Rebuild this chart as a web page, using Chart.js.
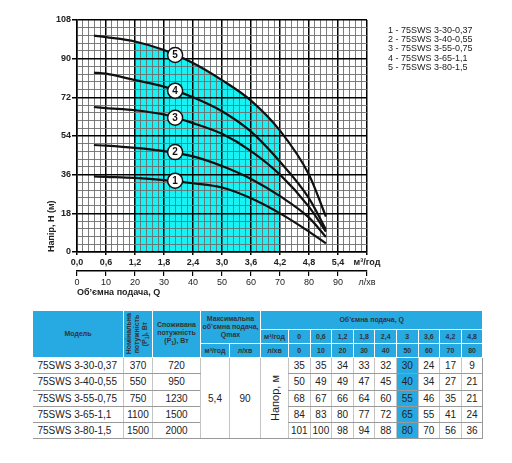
<!DOCTYPE html>
<html>
<head>
<meta charset="utf-8">
<script src="https://cdn.jsdelivr.net/npm/chart.js@4"></script>
<style>
  body { margin: 0; background: #fff; font-family: Arial, "Liberation Sans", sans-serif; }
  #wrap { position: absolute; left: 0; top: 0; width: 512px; height: 301px; }
  #legend { position: absolute; left: 388px; top: 26px; font-size: 9px; line-height: 9.2px; color: #222; }
  #tbl { position: absolute; left: 32px; top: 310px; border-collapse: collapse; table-layout: fixed; width: 450px; }
  #tbl th { background: #27aae1; color: #333; font-size: 7px; font-weight: bold; border: 1px solid #fff; padding: 0; text-align: center; line-height: 8px; }
  #tbl td { font-size: 10px; color: #222; text-align: center; padding: 0; height: 15px; border-bottom: 1px solid #9a9a9a; border-left: 1px solid #c4c4c4; }
  #tbl td.model { text-align: left; padding-left: 5px; border-left: none; }
  #tbl td.hl { background: #27aae1; }
  #tbl td.last { border-right: 1px solid #9a9a9a; }
  .v { writing-mode: vertical-rl; transform: rotate(180deg); margin: 0 auto; }
</style>
</head>
<body>
<div id="wrap"><canvas id="chart"></canvas></div>
<div id="legend"></div>
<table id="tbl"></table>
<script>
// curves (Q in m3/h, H in m)
const curveQ = [0.35, 0.6, 1.2, 1.8, 2.4, 3.0, 3.6, 4.2, 4.8, 5.15]
const head1 = [35.2, 35, 34.5, 33.5, 32, 30, 25, 18, 9.5, 4]
const head2 = [49.8, 49.5, 48.5, 47, 44.5, 40, 34, 26, 16, 7]
const head3 = [67.5, 67, 66, 64, 60, 55, 47, 36, 21, 9.5]
const head4 = [83.5, 83, 80, 77, 72, 65.5, 56, 42, 25, 10.5]
const head5 = [100.7, 100, 98, 94, 88, 80, 70.5, 56.5, 36, 16.5]

// working range (cyan area)
const workQ = [1.2, 1.8, 2.4, 3.0, 3.6, 4.2]
const workHead = [98, 94, 88, 80, 70.5, 56.5]

// circled curve numbers
const labelText = ['1', '2', '3', '4', '5']
const labelQ = [2.03, 2.03, 2.03, 2.03, 2.03]
const labelHead = [33.2, 46.5, 62.5, 75.1, 91.7]

const legendLines = ['1 - 75SWS 3-30-0,37', '2 - 75SWS 3-40-0,55', '3 - 75SWS 3-55-0,75', '4 - 75SWS 3-65-1,1', '5 - 75SWS 3-80-1,5']

// table
const models = ['75SWS 3-30-0,37', '75SWS 3-40-0,55', '75SWS 3-55-0,75', '75SWS 3-65-1,1', '75SWS 3-80-1,5']
const nominalPower = [370, 550, 750, 1100, 1500]
const consumedPower = [720, 950, 1230, 1500, 2000]
const qmaxM3 = '5,4'
const qmaxL = '90'
const flowM3 = ['0', '0,6', '1,2', '1,8', '2,4', '3', '3,6', '4,2', '4,8']
const flowL = ['0', '10', '20', '30', '40', '50', '60', '70', '80']
const tableHeads = [
  [35, 35, 34, 33, 32, 30, 24, 17, 9],
  [50, 49, 49, 47, 45, 40, 34, 27, 21],
  [68, 67, 66, 64, 60, 55, 46, 35, 21],
  [84, 83, 80, 77, 72, 65, 55, 41, 24],
  [101, 100, 98, 94, 88, 80, 70, 56, 36],
]
const highlightCol = 5

const pts = (xs, ys) => xs.map((x, i) => ({ x, y: ys[i] }))

const curve = (data) => ({
  data,
  borderColor: '#111',
  borderWidth: 2.2,
  pointRadius: 0,
  fill: false,
  cubicInterpolationMode: 'monotone',
})

const major = (ctx) => ctx.index % 5 === 0

const circleLabels = {
  id: 'circleLabels',
  afterDatasetsDraw(chart) {
    const { ctx, scales } = chart
    ctx.save()
    labelText.forEach((t, i) => {
      const x = scales.x.getPixelForValue(labelQ[i])
      const y = scales.y.getPixelForValue(labelHead[i])
      ctx.beginPath()
      ctx.arc(x, y, 7.5, 0, Math.PI * 2)
      ctx.fillStyle = '#fff'
      ctx.fill()
      ctx.lineWidth = 1.5
      ctx.strokeStyle = '#111'
      ctx.stroke()
      ctx.fillStyle = '#111'
      ctx.font = 'bold 10px Arial, "Liberation Sans", sans-serif'
      ctx.textAlign = 'center'
      ctx.textBaseline = 'middle'
      ctx.fillText(t, x, y + 0.5)
    })
    ctx.restore()
  }
}

new Chart(document.getElementById('chart'), {
  type: 'line',
  data: {
    datasets: [
      {
        data: pts(workQ, workHead),
        borderWidth: 0,
        pointRadius: 0,
        backgroundColor: '#18f2f4',
        fill: 'origin',
        cubicInterpolationMode: 'monotone',
      },
      curve(pts(curveQ, head1)),
      curve(pts(curveQ, head2)),
      curve(pts(curveQ, head3)),
      curve(pts(curveQ, head4)),
      curve(pts(curveQ, head5)),
    ]
  },
  options: {
    responsive: true,
    maintainAspectRatio: false,
    animation: false,
    layout: { padding: { left: 46, right: 145, top: 20, bottom: 1 } },
    plugins: {
      legend: { display: false },
      tooltip: { enabled: false },
      filler: { drawTime: 'beforeDraw' },
    },
    scales: {
      x: {
        type: 'linear',
        min: 0,
        max: 6,
        afterFit: (axis) => { axis.height = 19 },
        ticks: {
          stepSize: 0.12,
          maxTicksLimit: 200,
          autoSkip: false,
          maxRotation: 0,
          padding: 2,
          color: '#222',
          font: { size: 9, weight: 'bold', family: 'Arial, "Liberation Sans", sans-serif' },
          callback: (v, i, ticks) => {
            if (i === ticks.length - 1) return 'м³/год'
            return i % 5 === 0 ? v.toFixed(1).replace('.', ',') : ''
          },
        },
        grid: {
          color: (ctx) => major(ctx) ? '#000' : '#6e6e6e',
          lineWidth: (ctx) => major(ctx) ? 1.5 : 0.9,
          tickColor: (ctx) => major(ctx) ? '#000' : 'rgba(0,0,0,0)',
          tickLength: 3,
        },
        border: { color: '#000', width: 1.5 },
      },
      x2: {
        type: 'linear',
        position: 'bottom',
        min: 0,
        max: 100,
        afterFit: (axis) => { axis.height = 29 },
        ticks: {
          stepSize: 10,
          autoSkip: false,
          maxRotation: 0,
          padding: 1,
          color: '#222',
          font: { size: 9, family: 'Arial, "Liberation Sans", sans-serif' },
          callback: (v, i, ticks) => i === ticks.length - 1 ? 'л/хв' : v,
        },
        grid: { drawOnChartArea: false, color: '#000', lineWidth: 1.2, tickLength: 5 },
        border: { color: '#000', width: 1.5 },
        title: {
          display: true,
          text: 'Об’ємна подача, Q',
          align: 'start',
          color: '#222',
          padding: { top: 0, bottom: 2 },
          font: { size: 9, weight: 'bold', family: 'Arial, "Liberation Sans", sans-serif' },
        },
      },
      y: {
        type: 'linear',
        min: 0,
        max: 108,
        afterFit: (axis) => { axis.width = 31 },
        ticks: {
          stepSize: 3.6,
          maxTicksLimit: 200,
          autoSkip: false,
          padding: 1,
          color: '#222',
          font: { size: 9, weight: 'bold', family: 'Arial, "Liberation Sans", sans-serif' },
          callback: (v, i) => i % 5 === 0 ? Math.round(v) : '',
        },
        grid: {
          color: (ctx) => major(ctx) ? '#000' : '#6e6e6e',
          lineWidth: (ctx) => major(ctx) ? 1.5 : 0.9,
          tickColor: (ctx) => major(ctx) ? '#000' : 'rgba(0,0,0,0)',
          tickLength: 5,
        },
        border: { color: '#000', width: 1.5 },
        title: {
          display: true,
          text: 'Напір, Н (м)',
          align: 'start',
          color: '#222',
          padding: { top: 0, bottom: 2 },
          font: { size: 9, weight: 'bold', family: 'Arial, "Liberation Sans", sans-serif' },
        },
      },
    }
  },
  plugins: [circleLabels],
})

// legend text
document.getElementById('legend').innerHTML = legendLines.join('<br>')

// table
const colWidths = [91, 29, 48, 29, 31, 28, 21.6, 21.6, 21.6, 21.6, 21.6, 21.6, 21.6, 21.6, 21.6]
let html = '<colgroup>' + colWidths.map(w => `<col style="width:${w}px">`).join('') + '</colgroup>'
html += '<tr style="height:19px">' +
  '<th rowspan="3">Модель</th>' +
  '<th rowspan="3"><div class="v">Номінальна<br>потужність<br>(P<sub style="font-size:5px">1</sub>), Вт</div></th>' +
  '<th rowspan="3">Споживана<br>потужність<br>(P<sub style="font-size:5px">1</sub>), Вт</th>' +
  '<th rowspan="2" colspan="2">Максимальна<br>об’ємна подача,<br>Qmax</th>' +
  '<th colspan="10">Об’ємна подача, Q</th></tr>'
html += '<tr style="height:14px"><th>м³/год</th>' + flowM3.map(v => `<th>${v}</th>`).join('') + '</tr>'
html += '<tr style="height:14px"><th>м³/год</th><th>л/хв</th><th>л/хв</th>' + flowL.map(v => `<th>${v}</th>`).join('') + '</tr>'
models.forEach((m, r) => {
  html += '<tr style="height:16.3px">'
  html += `<td class="model">${m}</td><td>${nominalPower[r]}</td><td>${consumedPower[r]}</td>`
  if (r === 0) {
    html += `<td rowspan="5">${qmaxM3}</td><td rowspan="5">${qmaxL}</td>`
    html += '<td rowspan="5" style="font-size:11px"><div class="v">Напор, м</div></td>'
  }
  html += tableHeads[r].map((v, c) => {
    const cls = [c === highlightCol ? 'hl' : '', c === tableHeads[r].length - 1 ? 'last' : ''].join(' ')
    return `<td class="${cls}">${v}</td>`
  }).join('')
  html += '</tr>'
})
document.getElementById('tbl').innerHTML = html
</script>
</body>
</html>
